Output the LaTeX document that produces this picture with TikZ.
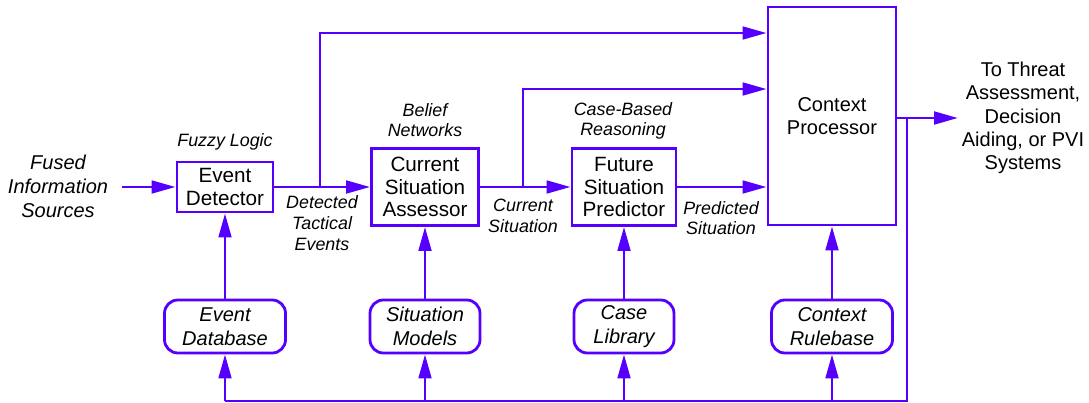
\documentclass[tikz,border=0pt]{standalone}
\usepackage{fontspec}
\setmainfont{Liberation Sans}
\usetikzlibrary{arrows.meta}
\definecolor{lc}{RGB}{85,0,255}
\begin{document}
\begin{tikzpicture}[x=0.75pt,y=-0.75pt,
  conn/.style={draw=lc, line width=2.1pt, -{Triangle[length=18pt,width=9.5pt]}},
  wire/.style={draw=lc, line width=2.1pt},
  box/.style={draw=lc, line width=2.1pt, fill=white, inner sep=0pt, align=center, font=\fontsize{15.5}{16.8}\selectfont},
  rbox/.style={box, rounded corners=10pt, minimum height=39.75pt, font=\fontsize{15}{18}\selectfont\itshape},
  lab/.style={align=center, inner sep=0pt, font=\fontsize{13.4}{15.5}\selectfont\itshape},
  big/.style={align=center, inner sep=0pt, font=\fontsize{15}{17.5}\selectfont}
]
\useasboundingbox (0,0) rectangle (1089,403);

% main boxes
\node[box, minimum width=72pt, minimum height=37.5pt] (ed) at (225,187) {Event\\Detector};
\node[box, minimum width=80.25pt, minimum height=57.75pt] (csa) at (425,187) {Current\\Situation\\Assessor};
\node[box, minimum width=78pt, minimum height=57.75pt] (fsp) at (624,187) {Future\\Situation\\Predictor};
\node[box, minimum width=96pt, minimum height=163.5pt, font=\fontsize{15}{17.3}\selectfont] (cp) at (832,116) {Context\\Processor};

% knowledge bases
\node[rbox, minimum width=90.75pt] (edb) at (225,326.5) {Event\\Database};
\node[rbox, minimum width=82.5pt] (sm) at (425,326.5) {Situation\\Models};
\node[rbox, minimum width=75pt] (cl) at (624,326.5) {Case\\Library};
\node[rbox, minimum width=90.75pt] (cr) at (832,326.5) {Context\\Rulebase};

% labels
\node[lab] (fl) at (225,142) {Fuzzy Logic};
\node[lab] (bn) at (425,120) {Belief\\Networks};
\node[lab] (cbr) at (623,121) {Case-Based\\Reasoning};
\node[big, font=\fontsize{15}{18}\selectfont\itshape] (fis) at (58,186) {Fused\\Information\\Sources};
\node[lab] (dte) at (322,223) {Detected\\Tactical\\Events};
\node[lab] (cs) at (523,216) {Current\\Situation};
\node[lab] (ps) at (721,218) {Predicted\\Situation};
\node[big] (out) at (1023,118) {To Threat\\Assessment,\\Decision\\Aiding, or PVI\\Systems};

% coordinates
\coordinate (fin) at (122,187);
\coordinate (b1) at (320,187);
\coordinate (b2) at (523,187);
\coordinate (y33) at (0,33);
\coordinate (y89) at (0,89);
\coordinate (otip) at (958,118);
\coordinate (fb) at (907,118);
\coordinate (bl) at (907,401);

% forward flow
\draw[conn] (fin) -- (ed.west);
\draw[conn] (ed.east) -- (csa.west);
\draw[conn] (csa.east) -- (fsp.west);
\draw[conn] (fsp.east) -- (cp.west |- fsp.east);
\draw[conn] (b1) |- (cp.west |- y33);
\draw[conn] (b2) |- (cp.west |- y89);
\draw[conn] (cp.east |- otip) -- (otip);

% knowledge base inputs
\draw[conn] (edb.north) -- (ed.south);
\draw[conn] (sm.north) -- (csa.south);
\draw[conn] (cl.north) -- (fsp.south);
\draw[conn] (cr.north) -- (cp.south);

% feedback
\draw[wire] (fb) -- (bl) -- (edb.south |- bl);
\draw[conn] (edb.south |- bl) -- (edb.south);
\draw[conn] (sm.south |- bl) -- (sm.south);
\draw[conn] (cl.south |- bl) -- (cl.south);
\draw[conn] (cr.south |- bl) -- (cr.south);
\end{tikzpicture}
\end{document}
